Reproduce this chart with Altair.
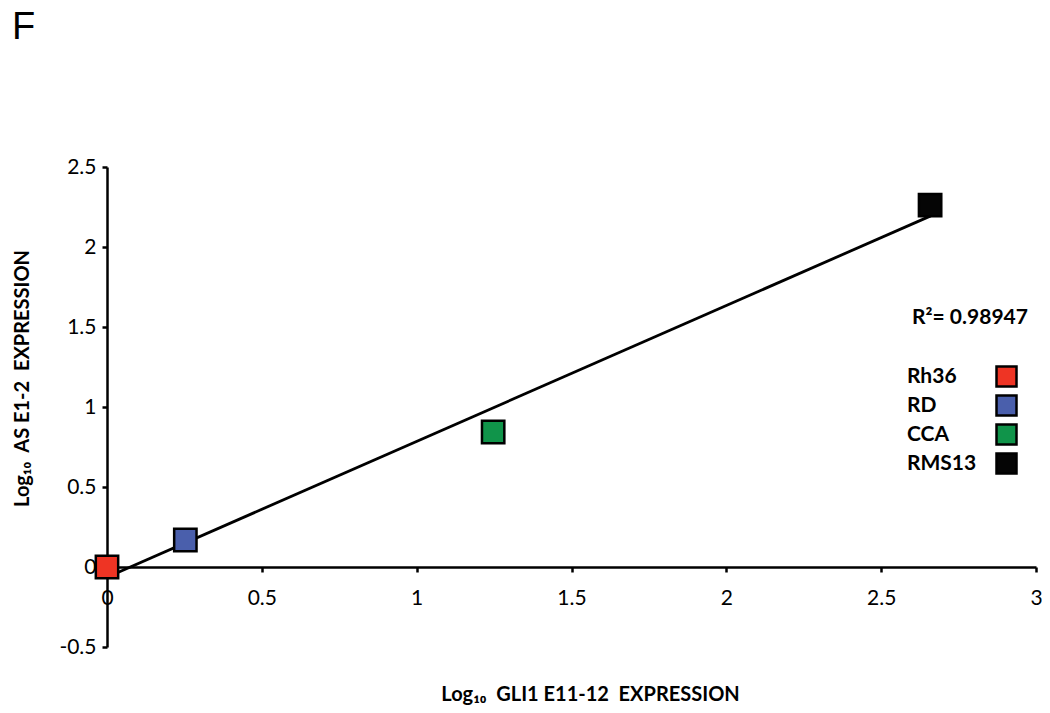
import altair as alt
import pandas as pd

cell_lines = ["Rh36", "RD", "CCA", "RMS13"]
gli1_log = [0.0, 0.253, 1.247, 2.658]
as_log = [0.0, 0.169, 0.844, 2.262]
colors = ["#EE3424", "#4A5FAC", "#10944A", "#050505"]
x_ticks = [0, 0.5, 1, 1.5, 2, 2.5, 3]
y_ticks = [-0.5, 0, 0.5, 1, 1.5, 2, 2.5]
r2_text = "R\u00b2= 0.98947"
panel_label = "F"
x_title = "Log\u2081\u2080\u00a0\u00a0GLI1 E11-12\u00a0\u00a0EXPRESSION"
y_title = "Log\u2081\u2080\u00a0\u00a0AS E1-2\u00a0\u00a0EXPRESSION"

df = pd.DataFrame({"line": cell_lines, "x": gli1_log, "y": as_log})

FONT = "Lato"

xscale = alt.Scale(domain=[0, 3], nice=False, zero=False)
yscale = alt.Scale(domain=[-0.5, 2.5], nice=False, zero=False)

base = alt.Chart(df)

xaxis = alt.Axis(
    values=x_ticks, labelExpr="'' + datum.value", offset=-80, grid=False,
    domainColor="black", domainWidth=2.5, tickColor="black", tickWidth=2.5, tickSize=5,
    labelFont=FONT, labelFontSize=21, labelColor="black", labelPadding=15,
    title=x_title, titleFont=FONT, titleFontSize=20,
    titleFontWeight="bold", titleColor="black", titleX=483, titleY=127,
    titleBaseline="middle", titleAnchor="middle", labelFlush=False,
)
yaxis = alt.Axis(
    values=y_ticks, labelExpr="'' + datum.value", grid=False,
    domainColor="black", domainWidth=2.5, tickColor="black", tickWidth=2.5, tickSize=5,
    labelFont=FONT, labelFontSize=21, labelColor="black", labelPadding=6,
    title=y_title, titleFont=FONT, titleFontSize=20,
    titleFontWeight="bold", titleColor="black", titleX=-85, titleY=211,
    titleBaseline="middle", titleAnchor="middle", labelFlush=False,
)

trend = base.transform_regression("x", "y", extent=[0, 2.66]).mark_line(
    color="black", strokeWidth=2.8
).encode(
    x=alt.X("x:Q", scale=xscale, axis=xaxis),
    y=alt.Y("y:Q", scale=yscale, axis=yaxis),
)

points = base.mark_square(size=500, opacity=1, stroke="black", strokeWidth=2.5, filled=True).encode(
    x=alt.X("x:Q", scale=xscale),
    y=alt.Y("y:Q", scale=yscale),
    color=alt.Color(
        "line:N",
        scale=alt.Scale(domain=cell_lines, range=colors),
        legend=alt.Legend(
            title=None, orient="none", legendX=888, legendY=198,
            labelAlign="left", labelOffset={"expr": "-111"}, labelFont=FONT, labelFontSize=21,
            labelFontWeight="bold", labelColor="black", symbolType="square",
            symbolSize=400, symbolStrokeColor="black", symbolStrokeWidth=2.5,
            symbolOpacity=1, rowPadding={"expr": "-2"}, labelLimit=200,
        ),
    ),
)

r2 = alt.Chart(pd.DataFrame({"t": [r2_text]})).mark_text(
    font=FONT, fontSize=21, fontWeight="bold", color="black", align="center", baseline="middle"
).encode(x=alt.value(863), y=alt.value(151), text="t:N")

flabel = alt.Chart(pd.DataFrame({"t": [panel_label]})).mark_text(
    font="Liberation Sans", fontSize=38, color="black", align="left", baseline="alphabetic"
).encode(x=alt.value(-95), y=alt.value(-128), text="t:N")

chart = (
    alt.layer(trend, points, r2, flabel)
    .properties(
        width=929, height=480,
        autosize=alt.AutoSizeParams(type="none"),
        padding={"left": 99, "top": 159, "right": 6, "bottom": 58},
    )
    .configure(background="white")
    .configure_view(strokeWidth=0, stroke="transparent")
)

chart.save("out.html", embed_options={"renderer": "svg", "actions": False})
